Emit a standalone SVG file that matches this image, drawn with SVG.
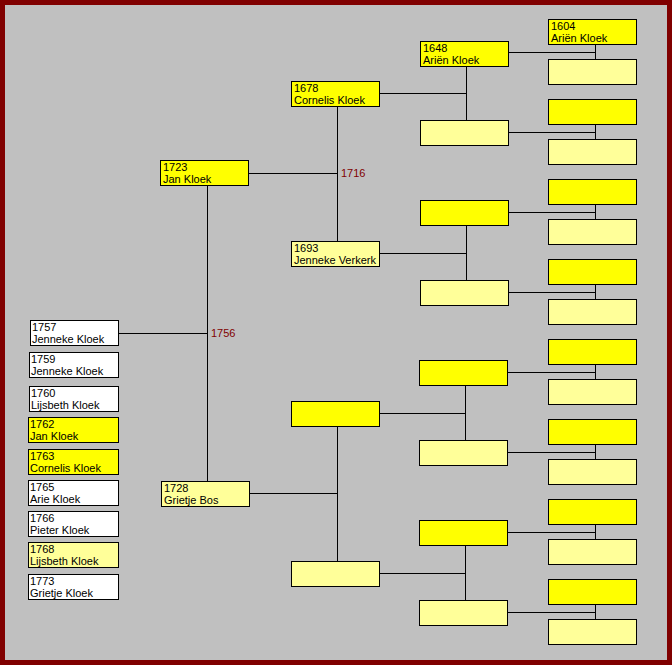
<svg xmlns="http://www.w3.org/2000/svg" width="672" height="665" viewBox="0 0 672 665">
<style>
.b{stroke:#000;stroke-width:1}
.y{fill:#FFFF00}
.l{fill:#FFFF99}
.w{fill:#FFFFFF}
text{font-family:"Liberation Sans",Arial,sans-serif;font-size:11px;fill:#000}
.lab{fill:#800000}
#connectors line{stroke:#000;stroke-width:1}
</style>
<rect x="0" y="0" width="672" height="665" fill="#800000"/>
<rect x="5" y="5" width="662" height="655" fill="#C0C0C0"/>
<g id="connectors">
<line x1="207.5" y1="186" x2="207.5" y2="481"/>
<line x1="119" y1="333.5" x2="207.5" y2="333.5"/>
<line x1="249" y1="173.5" x2="337.5" y2="173.5"/>
<line x1="250" y1="493.5" x2="337.5" y2="493.5"/>
<line x1="337.5" y1="106" x2="337.5" y2="241"/>
<line x1="337.5" y1="426" x2="337.5" y2="561"/>
<line x1="380" y1="93.5" x2="466.5" y2="93.5"/>
<line x1="380" y1="253.5" x2="466.5" y2="253.5"/>
<line x1="380" y1="413.5" x2="465.5" y2="413.5"/>
<line x1="380" y1="573.5" x2="465.5" y2="573.5"/>
<line x1="466.5" y1="66" x2="466.5" y2="120"/>
<line x1="466.5" y1="225" x2="466.5" y2="280"/>
<line x1="465.5" y1="385" x2="465.5" y2="440"/>
<line x1="465.5" y1="545" x2="465.5" y2="600"/>
<line x1="509" y1="52.5" x2="595.5" y2="52.5"/>
<line x1="509" y1="132.5" x2="595.5" y2="132.5"/>
<line x1="509" y1="212.5" x2="595.5" y2="212.5"/>
<line x1="509" y1="292.5" x2="595.5" y2="292.5"/>
<line x1="508" y1="372.5" x2="595.5" y2="372.5"/>
<line x1="508" y1="452.5" x2="595.5" y2="452.5"/>
<line x1="508" y1="532.5" x2="595.5" y2="532.5"/>
<line x1="508" y1="612.5" x2="595.5" y2="612.5"/>
<line x1="595.5" y1="45" x2="595.5" y2="59"/>
<line x1="595.5" y1="125" x2="595.5" y2="139"/>
<line x1="595.5" y1="205" x2="595.5" y2="219"/>
<line x1="595.5" y1="285" x2="595.5" y2="299"/>
<line x1="595.5" y1="365" x2="595.5" y2="379"/>
<line x1="595.5" y1="445" x2="595.5" y2="459"/>
<line x1="595.5" y1="525" x2="595.5" y2="539"/>
<line x1="595.5" y1="605" x2="595.5" y2="619"/>
</g>
<text class="lab" x="341" y="176.5">1716</text>
<text class="lab" x="211" y="337">1756</text>
<g id="n1723"><rect class="b y" x="160.5" y="160.5" width="88" height="25"/><text x="163" y="171">1723</text><text x="163" y="183">Jan Kloek</text></g>
<g id="n1728"><rect class="b l" x="161.5" y="481.5" width="88" height="25"/><text x="164" y="492">1728</text><text x="164" y="504">Grietje Bos</text></g>
<g id="n1678"><rect class="b y" x="291.5" y="81.5" width="88" height="25"/><text x="294" y="92">1678</text><text x="294" y="104">Cornelis Kloek</text></g>
<g id="n1693"><rect class="b l" x="291.5" y="241.5" width="88" height="25"/><text x="294" y="252">1693</text><text x="294" y="264">Jenneke Verkerk</text></g>
<g id="c2a"><rect class="b y" x="291.5" y="401.5" width="88" height="25"/></g>
<g id="c2b"><rect class="b l" x="291.5" y="561.5" width="88" height="25"/></g>
<g id="n1648"><rect class="b y" x="420.5" y="41.5" width="88" height="25"/><text x="423" y="52">1648</text><text x="423" y="64">Ariën Kloek</text></g>
<g id="c3b"><rect class="b l" x="420.5" y="120.5" width="88" height="25"/></g>
<g id="c3c"><rect class="b y" x="420.5" y="200.5" width="88" height="25"/></g>
<g id="c3d"><rect class="b l" x="420.5" y="280.5" width="88" height="25"/></g>
<g id="c3e"><rect class="b y" x="419.5" y="360.5" width="88" height="25"/></g>
<g id="c3f"><rect class="b l" x="419.5" y="440.5" width="88" height="25"/></g>
<g id="c3g"><rect class="b y" x="419.5" y="520.5" width="88" height="25"/></g>
<g id="c3h"><rect class="b l" x="419.5" y="600.5" width="88" height="25"/></g>
<g id="n1604"><rect class="b y" x="548.5" y="19.5" width="88" height="25"/><text x="551" y="30">1604</text><text x="551" y="42">Ariën Kloek</text></g>
<g id="c4b"><rect class="b l" x="548.5" y="59.5" width="88" height="25"/></g>
<g id="c4c"><rect class="b y" x="548.5" y="99.5" width="88" height="25"/></g>
<g id="c4d"><rect class="b l" x="548.5" y="139.5" width="88" height="25"/></g>
<g id="c4e"><rect class="b y" x="548.5" y="179.5" width="88" height="25"/></g>
<g id="c4f"><rect class="b l" x="548.5" y="219.5" width="88" height="25"/></g>
<g id="c4g"><rect class="b y" x="548.5" y="259.5" width="88" height="25"/></g>
<g id="c4h"><rect class="b l" x="548.5" y="299.5" width="88" height="25"/></g>
<g id="c4i"><rect class="b y" x="548.5" y="339.5" width="88" height="25"/></g>
<g id="c4j"><rect class="b l" x="548.5" y="379.5" width="88" height="25"/></g>
<g id="c4k"><rect class="b y" x="548.5" y="419.5" width="88" height="25"/></g>
<g id="c4l"><rect class="b l" x="548.5" y="459.5" width="88" height="25"/></g>
<g id="c4m"><rect class="b y" x="548.5" y="499.5" width="88" height="25"/></g>
<g id="c4n"><rect class="b l" x="548.5" y="539.5" width="88" height="25"/></g>
<g id="c4o"><rect class="b y" x="548.5" y="579.5" width="88" height="25"/></g>
<g id="c4p"><rect class="b l" x="548.5" y="619.5" width="88" height="25"/></g>
<g id="k1757"><rect class="b w" x="30.5" y="320.5" width="88" height="25"/><text x="32" y="331">1757</text><text x="32" y="343">Jenneke Kloek</text></g>
<g id="k1759"><rect class="b w" x="29.5" y="352.5" width="89" height="25"/><text x="31" y="363">1759</text><text x="31" y="375">Jenneke Kloek</text></g>
<g id="k1760"><rect class="b w" x="29.5" y="386.5" width="89" height="25"/><text x="31" y="397">1760</text><text x="31" y="409">Lijsbeth Kloek</text></g>
<g id="k1762"><rect class="b y" x="28.5" y="417.5" width="90" height="25"/><text x="30" y="428">1762</text><text x="30" y="440">Jan Kloek</text></g>
<g id="k1763"><rect class="b y" x="28.5" y="449.5" width="90" height="25"/><text x="30" y="460">1763</text><text x="30" y="472">Cornelis Kloek</text></g>
<g id="k1765"><rect class="b w" x="28.5" y="480.5" width="90" height="25"/><text x="30" y="491">1765</text><text x="30" y="503">Arie Kloek</text></g>
<g id="k1766"><rect class="b w" x="28.5" y="511.5" width="90" height="25"/><text x="30" y="522">1766</text><text x="30" y="534">Pieter Kloek</text></g>
<g id="k1768"><rect class="b l" x="28.5" y="542.5" width="90" height="25"/><text x="30" y="553">1768</text><text x="30" y="565">Lijsbeth Kloek</text></g>
<g id="k1773"><rect class="b w" x="28.5" y="574.5" width="90" height="25"/><text x="30" y="585">1773</text><text x="30" y="597">Grietje Kloek</text></g>
</svg>
